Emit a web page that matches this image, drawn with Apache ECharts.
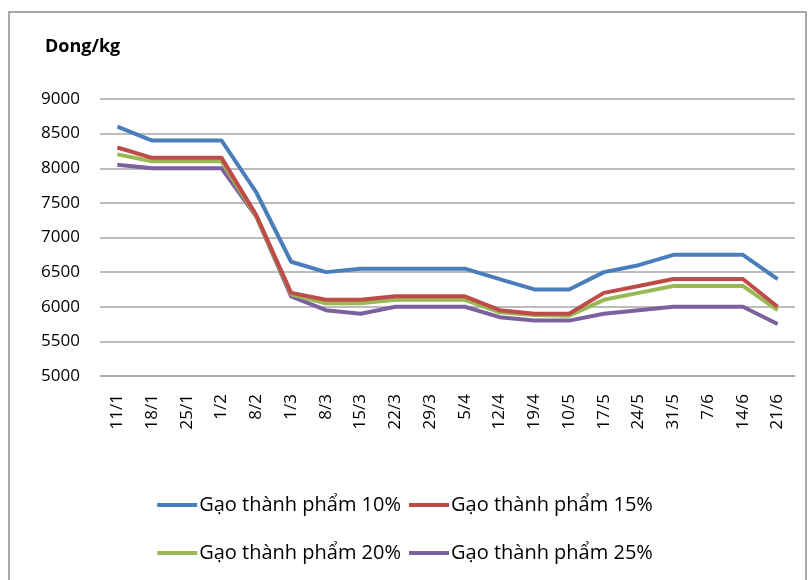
<!DOCTYPE html>
<html>
<head>
<meta charset="utf-8">
<script src="https://cdn.jsdelivr.net/npm/echarts@6/dist/echarts.min.js"></script>
<style>
  html, body { margin: 0; padding: 0; background: #fff; }
  #main { width: 810px; height: 580px; }
</style>
</head>
<body>
<div id="main"></div>
<script>
var categories = ['11/1', '18/1', '25/1', '1/2', '8/2', '1/3', '8/3', '15/3', '22/3', '29/3',
  '5/4', '12/4', '19/4', '10/5', '17/5', '24/5', '31/5', '7/6', '14/6', '21/6'];
var seriesNames = ['Gạo thành phẩm 10%', 'Gạo thành phẩm 15%', 'Gạo thành phẩm 20%', 'Gạo thành phẩm 25%'];
var gao10 = [8600, 8400, 8400, 8400, 7650, 6650, 6500, 6550, 6550, 6550, 6550, 6400, 6250, 6250, 6500, 6600, 6750, 6750, 6750, 6400];
var gao15 = [8300, 8150, 8150, 8150, 7320, 6200, 6100, 6100, 6150, 6150, 6150, 5950, 5900, 5900, 6200, 6300, 6400, 6400, 6400, 6000];
var gao20 = [8200, 8100, 8100, 8100, 7300, 6180, 6050, 6050, 6100, 6100, 6100, 5920, 5880, 5870, 6100, 6200, 6300, 6300, 6300, 5950];
var gao25 = [8050, 8000, 8000, 8000, 7300, 6150, 5950, 5900, 6000, 6000, 6000, 5850, 5800, 5800, 5900, 5950, 6000, 6000, 6000, 5750];
var colors = ['#4a7ebb', '#be4b48', '#98b954', '#7d60a0'];

var myChart = echarts.init(document.getElementById('main'));
var font = '"Open Sans", "Noto Sans", sans-serif';

function mkSeries(i, data) {
  return {
    name: seriesNames[i],
    type: 'line',
    data: data,
    symbol: 'none',
    lineStyle: { width: 4, color: colors[i] },
    itemStyle: { color: colors[i] },
    z: 10 - i
  };
}

var legendBase = {
  orient: 'horizontal',
  left: 'center',
  icon: 'rect',
  itemWidth: 40,
  itemHeight: 4,
  itemGap: 8,
  textStyle: { fontFamily: font, fontSize: 20, color: '#000', padding: [0, 0, 0, -3] }
};

option = {
  animation: false,
  color: colors,
  graphic: [{
    type: 'rect',
    shape: { x: 9, y: 12, width: 797, height: 600 },
    style: { fill: 'none', stroke: '#8c8c8c', lineWidth: 1.5 },
    silent: true
  }],
  title: {
    text: 'Dong/kg',
    left: 40,
    top: 33,
    textStyle: { fontFamily: font, fontSize: 18, fontWeight: 'bold', color: '#000' }
  },
  grid: { left: 100, right: 15, top: 99, bottom: 204, containLabel: false },
  legend: [
    Object.assign({}, legendBase, { top: 490, data: [seriesNames[0], seriesNames[1]] }),
    Object.assign({}, legendBase, { top: 538, data: [seriesNames[2], seriesNames[3]] })
  ],
  xAxis: {
    type: 'category',
    data: categories,
    boundaryGap: true,
    axisLine: { show: true, lineStyle: { color: '#a6a6a6', width: 1.5 } },
    axisTick: { show: false },
    axisLabel: { rotate: 90, margin: 18, interval: 0, fontFamily: font, fontSize: 17, color: '#000' }
  },
  yAxis: {
    type: 'value',
    min: 5000,
    max: 9000,
    interval: 500,
    axisLine: { show: false },
    axisTick: { show: false },
    axisLabel: {
      margin: 20, fontFamily: font, fontSize: 17, color: '#000',
      formatter: function (v) { return String(v); }
    },
    splitLine: { lineStyle: { color: '#a6a6a6', width: 1.5 } }
  },
  series: [mkSeries(0, gao10), mkSeries(1, gao15), mkSeries(2, gao20), mkSeries(3, gao25)]
};

if (option && typeof option === 'object') {
  myChart.setOption(option, true);
}
</script>
</body>
</html>
